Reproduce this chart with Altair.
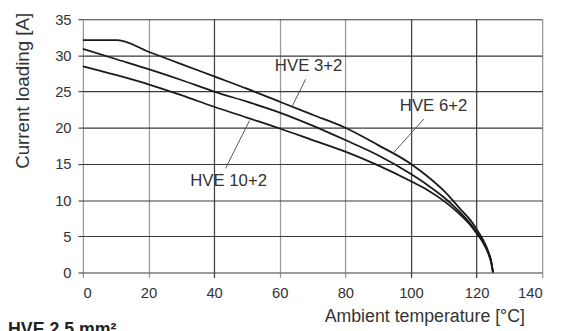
import altair as alt
import pandas as pd

# HVE 3+2
t_32 = [0, 10.5, 20, 30, 40, 50, 60, 70, 80, 90, 100, 105, 110, 115, 118, 120, 122, 123.5, 124.5, 125]
i_32 = [32.1, 32.1, 30.5, 28.8, 27.1, 25.4, 23.6, 21.8, 20.0, 17.6, 15.0, 13.3, 11.3, 8.8, 7.3, 6.0, 4.5, 3.0, 1.5, 0]
# HVE 6+2
t_62 = [0, 10, 20, 30, 40, 50, 60, 70, 80, 90, 100, 105, 110, 115, 118, 120, 122, 123.5, 124.5, 125]
i_62 = [30.9, 29.5, 28.1, 26.6, 25.0, 23.6, 22.1, 20.3, 18.3, 16.2, 13.6, 12.1, 10.4, 8.3, 6.8, 5.6, 4.2, 2.8, 1.3, 0]
# HVE 10+2
t_102 = [0, 10, 20, 30, 40, 50, 60, 70, 80, 90, 100, 105, 110, 115, 118, 120, 122, 123.5, 124.5, 125]
i_102 = [28.5, 27.3, 26.0, 24.5, 22.9, 21.4, 19.9, 18.3, 16.7, 14.8, 12.6, 11.4, 9.9, 8.0, 6.6, 5.4, 4.1, 2.7, 1.3, 0]

# annotations (data coordinates)
ann_labels = ["HVE 3+2", "HVE 6+2", "HVE 10+2"]
ann_t = [68.8, 106.9, 44.4]
ann_i = [28.5, 23.0, 12.7]
lead_t = [67.9, 103.9, 43.5]
lead_i = [26.7, 21.2, 14.4]
lead_t2 = [63.6, 94.4, 50.8]
lead_i2 = [22.8, 16.4, 21.0]

x_ticks = [0, 20, 40, 60, 80, 100, 120, 140]
y_ticks = [0, 5, 10, 15, 20, 25, 30, 35]

rows = []
for name, ts, vs in [("HVE 3+2", t_32, i_32), ("HVE 6+2", t_62, i_62), ("HVE 10+2", t_102, i_102)]:
    for t, v in zip(ts, vs):
        rows.append({"series": name, "temp": t, "load": v})
df = pd.DataFrame(rows)
ann_df = pd.DataFrame({"label": ann_labels, "temp": ann_t, "load": ann_i})
lead_df = pd.DataFrame({"temp": lead_t, "load": lead_i, "temp2": lead_t2, "load2": lead_i2})

FONT = "Liberation Sans"
vcolor = {"condition": {"test": "datum.value == 40 || datum.value == 100 || datum.value == 120", "value": "#444444"}, "value": "#9a9a9a"}

x_axis = alt.Axis(values=x_ticks, title="Ambient temperature [°C]", grid=True,
                  gridColor=vcolor, tickColor=vcolor, gridWidth=1.3, tickWidth=1.3,
                  domain=False, tickSize=5, labelFontSize=15, labelColor="#333333",
                  labelFont=FONT, labelPadding=8, titleFont=FONT, titleFontSize=18,
                  titleFontWeight="normal", titleColor="#333333", titleX=448, titleY=49.5,
                  titleAlign="right", titleBaseline="alphabetic")
y_axis = alt.Axis(values=y_ticks, title="Current loading [A]", grid=True,
                  gridColor="#3a3a3a", tickColor="#3a3a3a", gridWidth=1.1, tickWidth=1.1,
                  domain=False, tickSize=5, labelFontSize=15, labelColor="#333333",
                  labelFont=FONT, labelPadding=7, titleFont=FONT, titleFontSize=19,
                  titleFontWeight="normal", titleColor="#333333", titleAngle=270,
                  titleX=-55, titleY=-7, titleAlign="right", titleBaseline="alphabetic")

xs = alt.Scale(domain=[0, 140], nice=False)
ys = alt.Scale(domain=[0, 35], nice=False)

lines = alt.Chart(df).mark_line(color="#1a1a1a", strokeWidth=1.8, interpolate="monotone").encode(
    x=alt.X("temp:Q", scale=xs, axis=x_axis),
    y=alt.Y("load:Q", scale=ys, axis=y_axis),
    detail="series:N",
)

leaders = alt.Chart(lead_df).mark_rule(color="#555555", strokeWidth=1).encode(
    x=alt.X("temp:Q", scale=xs, axis=x_axis),
    y=alt.Y("load:Q", scale=ys, axis=y_axis),
    x2="temp2:Q",
    y2="load2:Q",
)

labels = alt.Chart(ann_df).mark_text(fontSize=17, font=FONT, color="#333333", align="center", baseline="middle").encode(
    x=alt.X("temp:Q", scale=xs, axis=x_axis),
    y=alt.Y("load:Q", scale=ys, axis=y_axis),
    text="label:N",
)

caption = alt.Chart(pd.DataFrame({"t": ["HVE 2,5 mm²"]})).mark_text(
    align="left", baseline="alphabetic", fontSize=18, fontWeight="bold", font=FONT, color="#222222"
).encode(text="t:N", x=alt.value(-76), y=alt.value(320.7))

chart = alt.layer(lines, leaders, labels, caption).properties(
    width=466, height=257,
    autosize=alt.AutoSizeParams(type="none"),
    padding={"left": 76, "top": 9, "right": 13, "bottom": 57},
    background="white",
).configure_view(stroke=None)

chart.save("out.html", embed_options={"renderer": "svg", "actions": False})
